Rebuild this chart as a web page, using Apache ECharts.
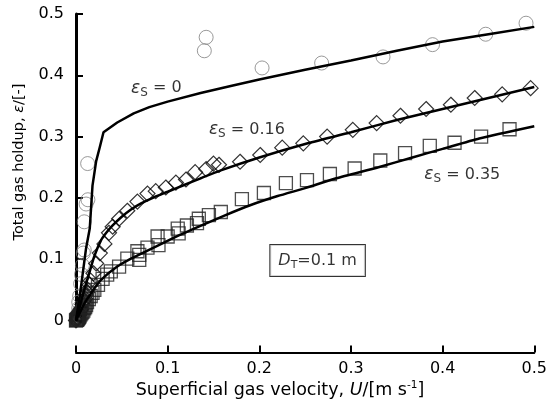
<!DOCTYPE html>
<html><head><meta charset="utf-8">
<script src="https://cdn.jsdelivr.net/npm/echarts@6/dist/echarts.min.js"></script>
<style>html,body{margin:0;padding:0;background:#fff}#c{width:550px;height:417px}</style>
</head><body><div id="c"></div>
<script>
const xTicks = [0, 0.1, 0.2, 0.3, 0.4, 0.5];
const yTicks = [0, 0.1, 0.2, 0.3, 0.4, 0.5];

// measured holdup, eps_S = 0 (circles)
const circles0 = [
  [0.001,0.004],[0.002,0.01],[0.003,0.02],[0.003,0.03],[0.004,0.04],[0.005,0.06],
  [0.006,0.075],[0.007,0.09],[0.008,0.11],[0.009,0.115],[0.009,0.161],[0.011,0.190],
  [0.013,0.197],[0.0127,0.256],[0.140,0.440],[0.142,0.462],[0.203,0.412],[0.268,0.420],
  [0.335,0.430],[0.389,0.450],[0.447,0.467],[0.491,0.485]
];
// measured holdup, eps_S = 0.16 (diamonds)
const diamonds16 = [
  [0.000,0.000],[0.001,0.002],[0.0015,0.004],[0.002,0.005],[0.003,0.008],[0.0035,0.010],
  [0.004,0.012],[0.005,0.016],[0.0055,0.018],[0.006,0.02],[0.007,0.026],[0.008,0.03],
  [0.009,0.033],[0.010,0.036],[0.011,0.042],[0.012,0.046],[0.013,0.05],[0.015,0.058],
  [0.016,0.065],[0.019,0.077],[0.022,0.093],[0.026,0.11],[0.031,0.125],[0.036,0.143],
  [0.040,0.153],[0.047,0.166],[0.056,0.179],[0.067,0.194],[0.078,0.207],[0.087,0.211],
  [0.098,0.217],[0.109,0.225],[0.120,0.230],[0.130,0.242],[0.142,0.247],[0.150,0.256],
  [0.156,0.254],[0.179,0.259],[0.201,0.270],[0.225,0.282],[0.248,0.289],[0.274,0.300],
  [0.302,0.311],[0.328,0.322],[0.354,0.334],[0.382,0.345],[0.409,0.352],[0.435,0.363],
  [0.465,0.369],[0.496,0.379]
];
// measured holdup, eps_S = 0.35 (squares)
const squares35 = [
  [0.000,0.000],[0.0005,0.001],[0.001,0.001],[0.0015,0.002],[0.002,0.003],[0.0025,0.004],
  [0.003,0.005],[0.0035,0.006],[0.004,0.008],[0.005,0.01],[0.006,0.012],[0.007,0.014],
  [0.008,0.016],[0.009,0.02],[0.010,0.022],[0.011,0.025],[0.012,0.03],[0.014,0.035],
  [0.016,0.04],[0.018,0.045],[0.020,0.05],[0.024,0.058],[0.029,0.068],[0.034,0.075],
  [0.038,0.080],[0.047,0.088],[0.056,0.101],[0.067,0.113],[0.069,0.107],[0.069,0.099],
  [0.078,0.119],[0.089,0.137],[0.090,0.123],[0.100,0.137],[0.111,0.150],[0.112,0.142],
  [0.121,0.155],[0.132,0.159],[0.134,0.166],[0.145,0.172],[0.158,0.177],[0.181,0.198],
  [0.205,0.208],[0.229,0.224],[0.252,0.229],[0.277,0.239],[0.304,0.248],[0.332,0.261],
  [0.359,0.273],[0.386,0.285],[0.413,0.290],[0.442,0.300],[0.473,0.312]
];
// model curves
const fit0 = [
  [0,0],[0.005,0.05],[0.011,0.118],[0.015,0.15],[0.018,0.22],[0.022,0.26],[0.026,0.283],
  [0.030,0.307],[0.045,0.323],[0.063,0.338],[0.080,0.348],[0.100,0.357],[0.136,0.371],
  [0.170,0.383],[0.200,0.393],[0.250,0.409],[0.300,0.424],[0.350,0.440],[0.400,0.455],
  [0.450,0.467],[0.500,0.479]
];
const fit16 = [
  [0,0],[0.004,0.022],[0.009,0.05],[0.015,0.08],[0.020,0.105],[0.027,0.130],[0.033,0.143],
  [0.040,0.155],[0.049,0.168],[0.060,0.181],[0.071,0.191],[0.085,0.201],[0.100,0.210],
  [0.118,0.221],[0.136,0.232],[0.158,0.245],[0.200,0.266],[0.250,0.288],[0.300,0.307],
  [0.350,0.327],[0.400,0.345],[0.450,0.363],[0.500,0.381]
];
const fit35 = [
  [0,0],[0.005,0.015],[0.010,0.030],[0.020,0.052],[0.027,0.066],[0.045,0.088],[0.060,0.101],
  [0.078,0.114],[0.096,0.127],[0.114,0.140],[0.132,0.152],[0.160,0.170],[0.190,0.188],
  [0.220,0.203],[0.250,0.216],[0.284,0.232],[0.330,0.250],[0.367,0.266],[0.400,0.280],
  [0.440,0.297],[0.500,0.317]
];

const FONT = 'DejaVu Sans';
const chart = echarts.init(document.getElementById('c'), null, {renderer: 'canvas'});

const epsRich = {
  e: {fontFamily: FONT, fontSize: 17, fontStyle: 'italic', color: '#000', verticalAlign: 'middle'},
  s: {fontFamily: FONT, fontSize: 12, color: '#000', verticalAlign: 'bottom', padding: [9, 0, 0, 0]},
  n: {fontFamily: FONT, fontSize: 16, color: '#000', verticalAlign: 'middle'}
};

function noteSeries(point, formatter, extra) {
  return {
    type: 'scatter', symbolSize: 0, silent: true, z: 5,
    data: [point],
    label: Object.assign({
      show: true, position: 'right', distance: 0, formatter: formatter, rich: epsRich
    }, extra || {})
  };
}

chart.setOption({
  animation: false,
  backgroundColor: '#fff',
  grid: {left: 76, right: 15, top: 14, bottom: 96.5, containLabel: false},
  xAxis: {
    type: 'value', min: xTicks[0], max: xTicks[xTicks.length - 1], interval: 0.1,
    offset: 32,
    axisLine: {show: true, onZero: false, lineStyle: {color: '#000', width: 2}},
    axisTick: {show: true, inside: true, length: 7, lineStyle: {color: '#000', width: 2}},
    splitLine: {show: false},
    axisLabel: {color: '#000', fontFamily: FONT, fontSize: 16, margin: 8}
  },
  yAxis: {
    type: 'value', min: yTicks[0], max: yTicks[yTicks.length - 1], interval: 0.1,
    axisLine: {show: true, onZero: false, lineStyle: {color: '#000', width: 3}},
    axisTick: {show: true, inside: true, length: 7, lineStyle: {color: '#000', width: 2}},
    splitLine: {show: false},
    axisLabel: {color: '#000', fontFamily: FONT, fontSize: 16, margin: 12}
  },
  series: [
    {type: 'scatter', data: circles0, symbol: 'circle', symbolSize: 14,
     itemStyle: {color: 'rgba(0,0,0,0)', borderColor: '#808080', borderWidth: 1}},
    {type: 'scatter', data: diamonds16, symbol: 'diamond', symbolSize: 15,
     itemStyle: {color: 'rgba(0,0,0,0)', borderColor: '#000', borderWidth: 1.2}},
    {type: 'scatter', data: squares35, symbol: 'rect', symbolSize: 13,
     itemStyle: {color: 'rgba(0,0,0,0)', borderColor: '#222', borderWidth: 1.3}},
    {type: 'line', data: fit0, showSymbol: false, smooth: false,
     lineStyle: {color: '#000', width: 2.5}},
    {type: 'line', data: fit16, showSymbol: false, smooth: 0.2,
     lineStyle: {color: '#000', width: 2.5}},
    {type: 'line', data: fit35, showSymbol: false, smooth: 0.2,
     lineStyle: {color: '#000', width: 2.5}},
    noteSeries([0.06, 0.379], '{e|ε}{s|S}{n| = 0}'),
    noteSeries([0.145, 0.311], '{e|ε}{s|S}{n| = 0.16}'),
    noteSeries([0.380, 0.238], '{e|ε}{s|S}{n| = 0.35}'),
    noteSeries([0.212, 0.098], '{d|D}{t|T}{n|=0.1 m}', {
      borderColor: '#000', borderWidth: 1, padding: [6, 8, 5, 8], backgroundColor: '#fff',
      rich: {
        d: {fontFamily: FONT, fontSize: 16, fontStyle: 'italic', color: '#000', verticalAlign: 'middle'},
        t: {fontFamily: FONT, fontSize: 11, color: '#000', verticalAlign: 'bottom', padding: [9, 0, 0, 0]},
        n: {fontFamily: FONT, fontSize: 16, color: '#000', verticalAlign: 'middle'}
      }
    })
  ],
  graphic: [
    {type: 'text', x: 19, y: 162, rotation: Math.PI / 2, silent: true,
     style: {
       text: '{n|Total gas holdup, }{e|ε}{n|/[-]}', align: 'center', verticalAlign: 'middle',
       rich: {
         n: {fontFamily: FONT, fontSize: 14.5, fill: '#000'},
         e: {fontFamily: FONT, fontSize: 14.5, fontStyle: 'italic', fill: '#000'}
       }
     }},
    {type: 'text', x: 280, y: 390, silent: true,
     style: {
       text: '{n|Superficial gas velocity, }{u|U}{n|/[m s}{p|-1}{n|]}', align: 'center', verticalAlign: 'middle',
       rich: {
         n: {fontFamily: FONT, fontSize: 17.5, fill: '#000', verticalAlign: 'middle'},
         u: {fontFamily: FONT, fontSize: 17.5, fontStyle: 'italic', fill: '#000', verticalAlign: 'middle'},
         p: {fontFamily: FONT, fontSize: 10.5, fill: '#000', verticalAlign: 'top', padding: [0, 0, 9, 0]}
       }
     }}
  ]
});
</script></body></html>
